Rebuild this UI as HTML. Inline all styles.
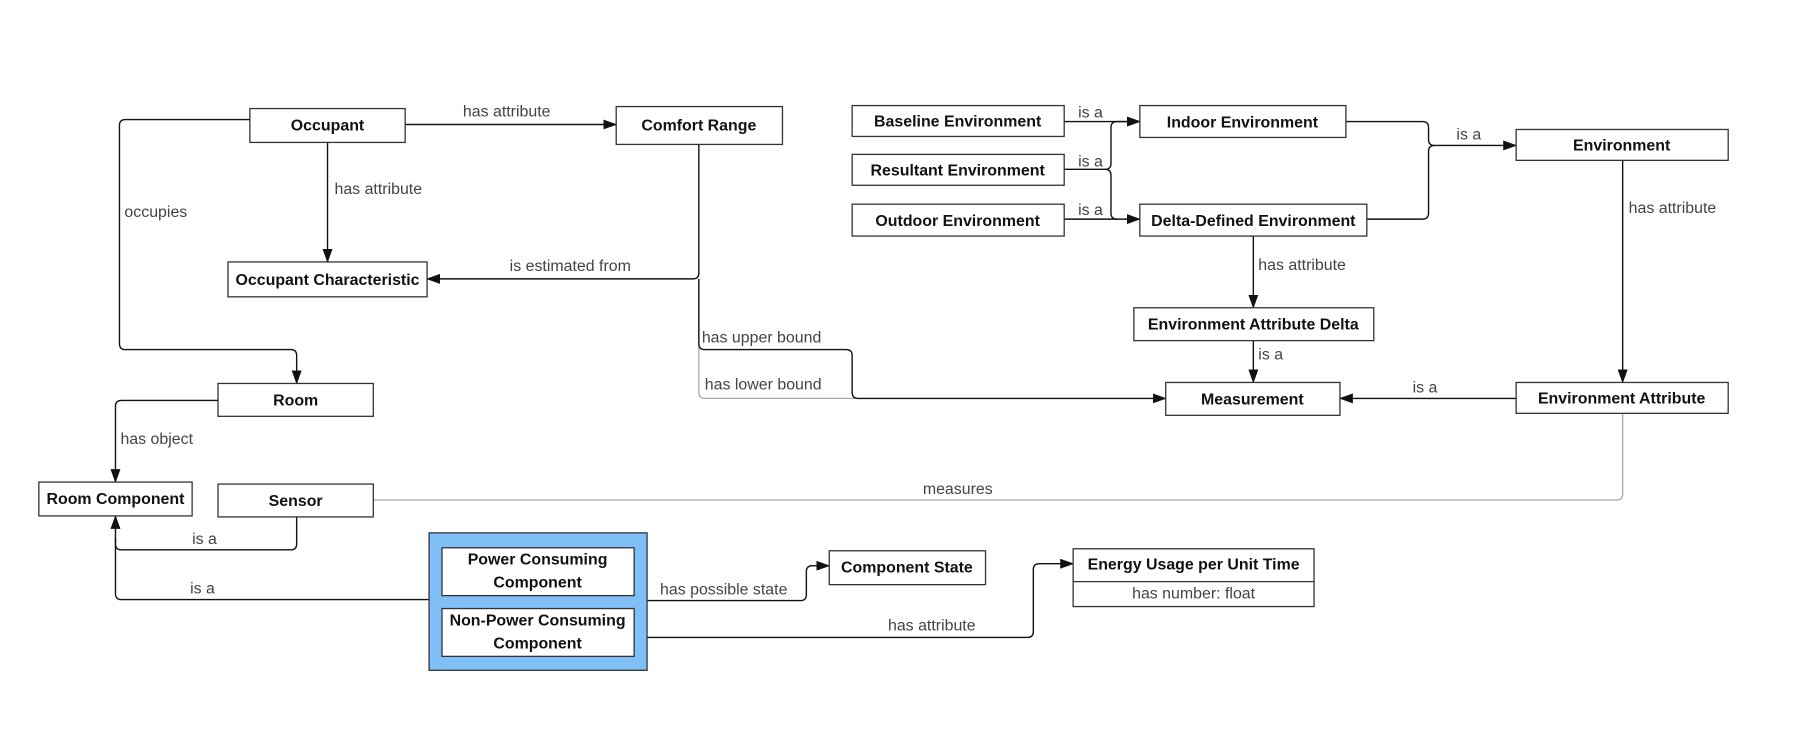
<!DOCTYPE html>
<html><head><meta charset="utf-8"><style>
html,body{margin:0;padding:0;background:#fff;}
svg{display:block;font-family:"Liberation Sans",sans-serif;}
.n{font-weight:bold;font-size:16px;fill:#111;text-anchor:middle;}
.l{font-size:16px;fill:#444;}
.b{fill:#fff;stroke:#333;stroke-width:1.3;}
.e{fill:none;stroke:#111;stroke-width:1.4;}
.g{fill:none;stroke:#aaa;stroke-width:1.3;}
</style></head><body>
<svg width="1795" height="735" viewBox="0 0 1795 735">
<defs>
<marker id="a" markerWidth="14" markerHeight="10" refX="13" refY="5" orient="auto" markerUnits="userSpaceOnUse"><path d="M0,0 L14,5 L0,10 Z" fill="#111"/></marker>
</defs>
<g transform="scale(0.9955,0.996)">
<!-- edges -->
<path class="e" d="M407,125 H619" marker-end="url(#a)"/>
<path class="e" d="M329,143 V263" marker-end="url(#a)"/>
<path class="e" d="M702,145 V274 q0,6 -6,6 H429" marker-end="url(#a)"/>
<path class="g" d="M702,280 V394 q0,6 6,6 H860"/>
<path class="e" d="M702,280 V345 q0,6 6,6 H850 q6,0 6,6 V394 q0,6 6,6 H1171" marker-end="url(#a)"/>
<path class="e" d="M251,120 H126 q-6,0 -6,6 V345 q0,6 6,6 H292 q6,0 6,6 V385" marker-end="url(#a)"/>
<path class="e" d="M219,402 H122 q-6,0 -6,6 V484" marker-end="url(#a)"/>
<path class="e" d="M298,519 V546 q0,6 -6,6 H122 q-6,0 -6,-6 V518" marker-end="url(#a)"/>
<path class="e" d="M431,602 H122 q-6,0 -6,-6 V540"/>
<path class="g" d="M375,502 H1624 q6,0 6,-6 V415"/>
<path class="e" d="M650,603 H804 q6,0 6,-6 V574 q0,-6 6,-6 H833" marker-end="url(#a)"/>
<path class="e" d="M650,640 H1032 q6,0 6,-6 V572 q0,-6 6,-6 H1078" marker-end="url(#a)"/>
<path class="e" d="M1069,122 H1145" marker-end="url(#a)"/>
<path class="e" d="M1069,170 H1110 q6,0 6,-6 V128 q0,-6 6,-6 H1145" marker-end="url(#a)"/>
<path class="e" d="M1110,170 q6,0 6,6 V214 q0,6 6,6"/>
<path class="e" d="M1069,220 H1145" marker-end="url(#a)"/>
<path class="e" d="M1352,122 H1429 q6,0 6,6 V140 q0,6 6,6 H1523" marker-end="url(#a)"/>
<path class="e" d="M1373,220 H1429 q6,0 6,-6 V152 q0,-6 6,-6"/>
<path class="e" d="M1630,161 V384" marker-end="url(#a)"/>
<path class="e" d="M1259,237 V309" marker-end="url(#a)"/>
<path class="e" d="M1259,342 V384" marker-end="url(#a)"/>
<path class="e" d="M1523,400 H1346" marker-end="url(#a)"/>
<!-- nodes -->
<rect class="b" x="251" y="109" width="156" height="34"/><text class="n" x="329" y="131">Occupant</text>
<rect class="b" x="619" y="107" width="167" height="38"/><text class="n" x="702" y="131">Comfort Range</text>
<rect class="b" x="229" y="263" width="200" height="35"/><text class="n" x="329" y="286">Occupant Characteristic</text>
<rect class="b" x="219" y="385" width="156" height="33"/><text class="n" x="297" y="407">Room</text>
<rect class="b" x="39" y="484" width="154" height="34"/><text class="n" x="116" y="506">Room Component</text>
<rect class="b" x="219" y="486" width="156" height="33"/><text class="n" x="297" y="508">Sensor</text>
<rect x="431" y="535" width="219" height="138" fill="#80c0f6" stroke="#333" stroke-width="1.3"/>
<rect class="b" x="444" y="550" width="193" height="48"/><text class="n" x="540" y="567">Power Consuming</text><text class="n" x="540" y="590">Component</text>
<rect class="b" x="444" y="611" width="193" height="48"/><text class="n" x="540" y="628">Non-Power Consuming</text><text class="n" x="540" y="651">Component</text>
<rect class="b" x="833" y="553" width="157" height="34"/><text class="n" x="911" y="575">Component State</text>
<rect class="b" x="1078" y="551" width="242" height="58"/><line x1="1078" y1="584" x2="1320" y2="584" stroke="#333" stroke-width="1.3"/>
<text class="n" x="1199" y="572">Energy Usage per Unit Time</text>
<text class="l" x="1199" y="601" text-anchor="middle">has number: float</text>
<rect class="b" x="856" y="106" width="213" height="31"/><text class="n" x="962" y="127">Baseline Environment</text>
<rect class="b" x="856" y="155" width="213" height="31"/><text class="n" x="962" y="176">Resultant Environment</text>
<rect class="b" x="856" y="205" width="213" height="32"/><text class="n" x="962" y="227">Outdoor Environment</text>
<rect class="b" x="1145" y="106" width="207" height="32"/><text class="n" x="1248" y="128">Indoor Environment</text>
<rect class="b" x="1145" y="205" width="228" height="32"/><text class="n" x="1259" y="227">Delta-Defined Environment</text>
<rect class="b" x="1523" y="130" width="213" height="31"/><text class="n" x="1629" y="151">Environment</text>
<rect class="b" x="1139" y="309" width="241" height="33"/><text class="n" x="1259" y="331">Environment Attribute Delta</text>
<rect class="b" x="1171" y="384" width="175" height="33"/><text class="n" x="1258" y="406">Measurement</text>
<rect class="b" x="1523" y="384" width="213" height="31"/><text class="n" x="1629" y="405">Environment Attribute</text>
<!-- labels -->
<text class="l" x="465" y="117">has attribute</text>
<text class="l" x="336" y="195">has attribute</text>
<text class="l" x="512" y="272">is estimated from</text>
<text class="l" x="705" y="344">has upper bound</text>
<text class="l" x="708" y="391">has lower bound</text>
<text class="l" x="125" y="218">occupies</text>
<text class="l" x="121" y="446">has object</text>
<text class="l" x="193" y="546">is a</text>
<text class="l" x="191" y="596">is a</text>
<text class="l" x="927" y="496">measures</text>
<text class="l" x="663" y="597">has possible state</text>
<text class="l" x="892" y="633">has attribute</text>
<text class="l" x="1083" y="118">is a</text>
<text class="l" x="1083" y="167">is a</text>
<text class="l" x="1083" y="216">is a</text>
<text class="l" x="1463" y="140">is a</text>
<text class="l" x="1636" y="214">has attribute</text>
<text class="l" x="1264" y="271">has attribute</text>
<text class="l" x="1264" y="361">is a</text>
<text class="l" x="1419" y="394">is a</text>
</g>
</svg>
</body></html>
